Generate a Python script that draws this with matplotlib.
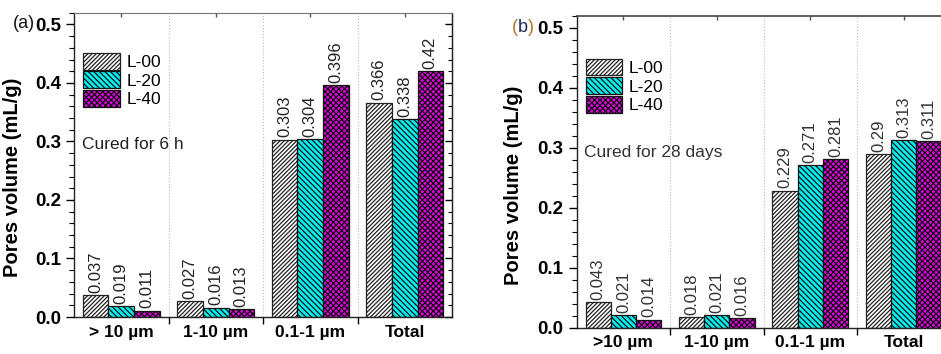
import matplotlib
matplotlib.use("Agg")
import matplotlib.pyplot as plt
from matplotlib.ticker import MultipleLocator, NullFormatter

plt.rcParams['font.family'] = ['Liberation Sans', 'DejaVu Sans']
plt.rcParams['hatch.linewidth'] = 0.9

# data
cats_a = ['> 10 µm', '1-10 µm', '0.1-1 µm', 'Total']
cats_b = ['>10 µm', '1-10 µm', '0.1-1 µm', 'Total']
series = ['L-00', 'L-20', 'L-40']

l00_6h = [0.037, 0.027, 0.303, 0.366]
l20_6h = [0.019, 0.016, 0.304, 0.338]
l40_6h = [0.011, 0.013, 0.396, 0.42]

l00_28d = [0.043, 0.018, 0.229, 0.29]
l20_28d = [0.021, 0.021, 0.271, 0.313]
l40_28d = [0.014, 0.016, 0.281, 0.311]

yticks = [0.0, 0.1, 0.2, 0.3, 0.4, 0.5]

# styles
faces = ['white', '#00f2f2', '#e400e4']
hatches = ['////////', '\\\\\\\\\\\\', 'xxxxxx']
edges = ['#222222', '#111111', '#111111']
bw = 0.27


def draw_panel(ax, cats, vals, note, note_y, txtcol, xpad):
    x = range(len(cats))
    for i, (v, name) in enumerate(zip(vals, series)):
        pos = [k + (i - 1) * bw for k in x]
        ax.bar(pos, v, bw, color=faces[i], hatch=hatches[i], edgecolor=edges[i],
               linewidth=0.9, label=name, zorder=2)
        for p, h in zip(pos, v):
            ax.text(p, h + 0.004, f"{h:g}", rotation=90, ha='center', va='bottom',
                    fontsize=12, color=txtcol)

    ax.set_xlim(-0.5, 3.5)
    ax.set_ylim(0, 0.52)

    # separators between groups
    ax.set_xticks([0.5, 1.5, 2.5], labels=['', '', ''])
    ax.set_xticks(list(x), labels=cats, minor=True, fontsize=12.5, fontweight='bold')
    ax.tick_params(axis='x', which='major', direction='out', length=5, width=1)
    ax.tick_params(axis='x', which='minor', length=0, pad=xpad)
    ax.grid(axis='x', which='major', ls=':', color='#bbbbbb', lw=0.8, zorder=0)

    ax.set_yticks(yticks, labels=[f"{t:.1f}" for t in yticks], fontsize=13.5, fontweight='bold')
    ax.yaxis.set_minor_locator(MultipleLocator(0.02))
    ax.tick_params(axis='y', which='major', direction='out', length=6, width=1)
    ax.tick_params(axis='y', which='minor', direction='out', length=3.5, width=0.8)

    sec = ax.secondary_yaxis('right')
    sec.set_yticks(yticks)
    sec.yaxis.set_minor_locator(MultipleLocator(0.02))
    sec.yaxis.set_major_formatter(NullFormatter())
    sec.tick_params(which='major', direction='in', length=5, width=1)
    sec.tick_params(which='minor', direction='in', length=3, width=0.8)
    sec.spines['right'].set_color('#222222')

    top = ax.secondary_xaxis('top')
    top.set_xticks(list(x))
    top.xaxis.set_major_formatter(NullFormatter())
    top.tick_params(direction='in', length=3, width=1, colors='#555555')
    top.spines['top'].set_visible(False)

    for s in ['left', 'bottom', 'right']:
        ax.spines[s].set_color('#222222')
        ax.spines[s].set_linewidth(1.0)
    ax.spines['top'].set_color('#777777')

    ax.set_ylabel('Pores volume (mL/g)', fontsize=14.5, fontweight='bold')
    ax.text(0.02, note_y, note, transform=ax.get_yaxis_transform(),
            fontsize=12.5, color=txtcol, va='center')


legend_kw = dict(loc='upper left', frameon=False, fontsize=12.5, handlelength=2.1,
                 handleheight=1.1, labelspacing=0.08, handletextpad=0.4,
                 borderpad=0, borderaxespad=0)

fig = plt.figure(figsize=(9.41, 3.54), dpi=100)

ax1 = fig.add_axes([74 / 941, 1 - 317 / 354, 378 / 941, 304.3 / 354])
draw_panel(ax1, cats_a, [l00_6h, l20_6h, l40_6h], 'Cured for 6 h', 0.294, '#222222', 6)
ax1.yaxis.set_label_coords(-0.1376, 0.458)
ax1.legend(bbox_to_anchor=(0.024, 0.868), **legend_kw)
fig.text(13 / 941, 1 - 23 / 354, '(a)', fontsize=13, va='center', color='#111111')

ax2 = fig.add_axes([576.7 / 941, 1 - 328 / 354, 373.6 / 941, 312 / 354])
draw_panel(ax2, cats_b, [l00_28d, l20_28d, l40_28d], 'Cured for 28 days', 0.292, '#333333', 5)
ax2.yaxis.set_label_coords(-0.1437, 0.458)
ax2.spines['top'].set_color('#444444')
ax2.spines['top'].set_linewidth(1.2)
ax2.legend(bbox_to_anchor=(0.024, 0.863), **legend_kw)

# "(b)" with coloured brackets
t1 = fig.text(511.7 / 941, 1 - 28 / 354, '(', fontsize=13, va='center', color='#b8732a')
t2 = ax2.annotate('b', xy=(1, 0), xycoords=t1, va='bottom', fontsize=13,
                  color='#1f2a5a', annotation_clip=False)
ax2.annotate(')', xy=(1, 0), xycoords=t2, va='bottom', fontsize=13,
             color='#b8732a', annotation_clip=False)

fig.savefig('out.png', dpi=100)
